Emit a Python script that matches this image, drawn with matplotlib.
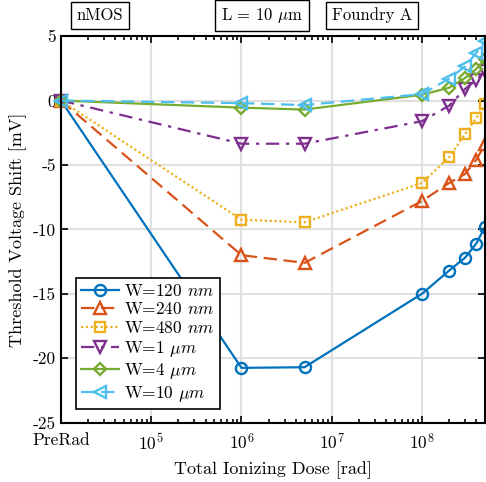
import numpy as np
import matplotlib
matplotlib.use("Agg")
import matplotlib.pyplot as plt

plt.rcParams['font.family'] = 'cmr10'
plt.rcParams['mathtext.fontset'] = 'cm'
plt.rcParams['axes.unicode_minus'] = False
plt.rcParams['axes.formatter.use_mathtext'] = True

# dose points (PreRad drawn at 1e4)
dose = [1e4, 1e6, 5e6, 1e8, 2e8, 3e8, 4e8, 5e8]

w120 = [0, -20.75, -20.7, -15.0, -13.2, -12.2, -11.1, -9.8]
w240 = [0, -12.0, -12.6, -7.8, -6.4, -5.7, -4.6, -3.4]
w480 = [0, -9.25, -9.45, -6.4, -4.4, -2.6, -1.35, -0.3]
w1u = [0, -3.35, -3.35, -1.6, -0.4, 0.9, 1.6, 2.3]
w4u = [0, -0.55, -0.7, 0.45, 1.0, 1.75, 2.45, 3.2]
w10u = [0, -0.2, -0.35, 0.5, 1.7, 2.65, 3.7, 4.6]

labels = ['W=120 $nm$', 'W=240 $nm$', 'W=480 $nm$',
          'W=1 $\\mu m$', 'W=4 $\\mu m$', 'W=10 $\\mu m$']
colors = ['#0072BD', '#D95319', '#EDB120', '#7E2F8E', '#77AC30', '#4DBEEE']
markers = ['o', '^', 's', 'v', 'D', '<']
styles = ['-', (0, (6, 3)), (0, (1, 1.2)), (0, (6, 3, 1.5, 3)), '-', (0, (6, 3))]
msizes = [8, 8, 6.5, 8, 6.5, 8]

fig = plt.figure(figsize=(4.86, 4.82), dpi=100)
ax = fig.add_axes([0.1255, 0.1232, 0.8725, 0.8018])

for ys, lab, c, m, ls, ms in zip([w120, w240, w480, w1u, w4u, w10u],
                                 labels, colors, markers, styles, msizes):
    ax.plot(dose, ys, color=c, marker=m, linestyle=ls, lw=1.6,
            markersize=ms, markerfacecolor='none', markeredgewidth=1.7,
            label=lab, clip_on=False)

ax.set_xscale('log')
ax.set_xlim(1e4, 5e8)
ax.set_ylim(-25, 5)
ax.set_xticks([1e4, 1e5, 1e6, 1e7, 1e8])
ax.set_xticklabels(['PreRad', '$10^5$', '$10^6$', '$10^7$', '$10^8$'])
ax.set_yticks([-25, -20, -15, -10, -5, 0, 5])
ax.set_yticklabels(['-25', '-20', '-15', '-10', '-5', '0', '5'])
ax.tick_params(which='both', direction='in', top=True, right=True,
               labelsize=12.5, width=1.2)
ax.tick_params(axis='x', which='major', pad=7)
ax.tick_params(which='major', length=5)
ax.tick_params(which='minor', length=3)
ax.grid(True, which='major', color='#e0e0e0', lw=1.5)
ax.set_axisbelow(True)
for s in ax.spines.values():
    s.set_linewidth(1.5)

ax.set_xlabel('Total Ionizing Dose [rad]', fontsize=13, labelpad=6)
ax.set_ylabel('Threshold Voltage Shift [mV]', fontsize=13, labelpad=4)

leg = ax.legend(loc='lower left', bbox_to_anchor=(0.035, 0.035),
                fontsize=12.5, fancybox=False, edgecolor='black',
                framealpha=1, borderpad=0.3, labelspacing=0.15,
                handlelength=2.2, handletextpad=0.3, borderaxespad=0)
leg.get_frame().set_linewidth(1.2)

box = dict(boxstyle='square,pad=0.35', fc='white', ec='black', lw=1)
fig.text(0.206, 0.968, 'nMOS', ha='center', va='center', fontsize=12, bbox=box)
fig.text(0.540, 0.968, 'L = 10 $\\mu$m', ha='center', va='center', fontsize=12, bbox=box)
fig.text(0.766, 0.968, 'Foundry A', ha='center', va='center', fontsize=12, bbox=box)

fig.savefig('out.png', dpi=100)
